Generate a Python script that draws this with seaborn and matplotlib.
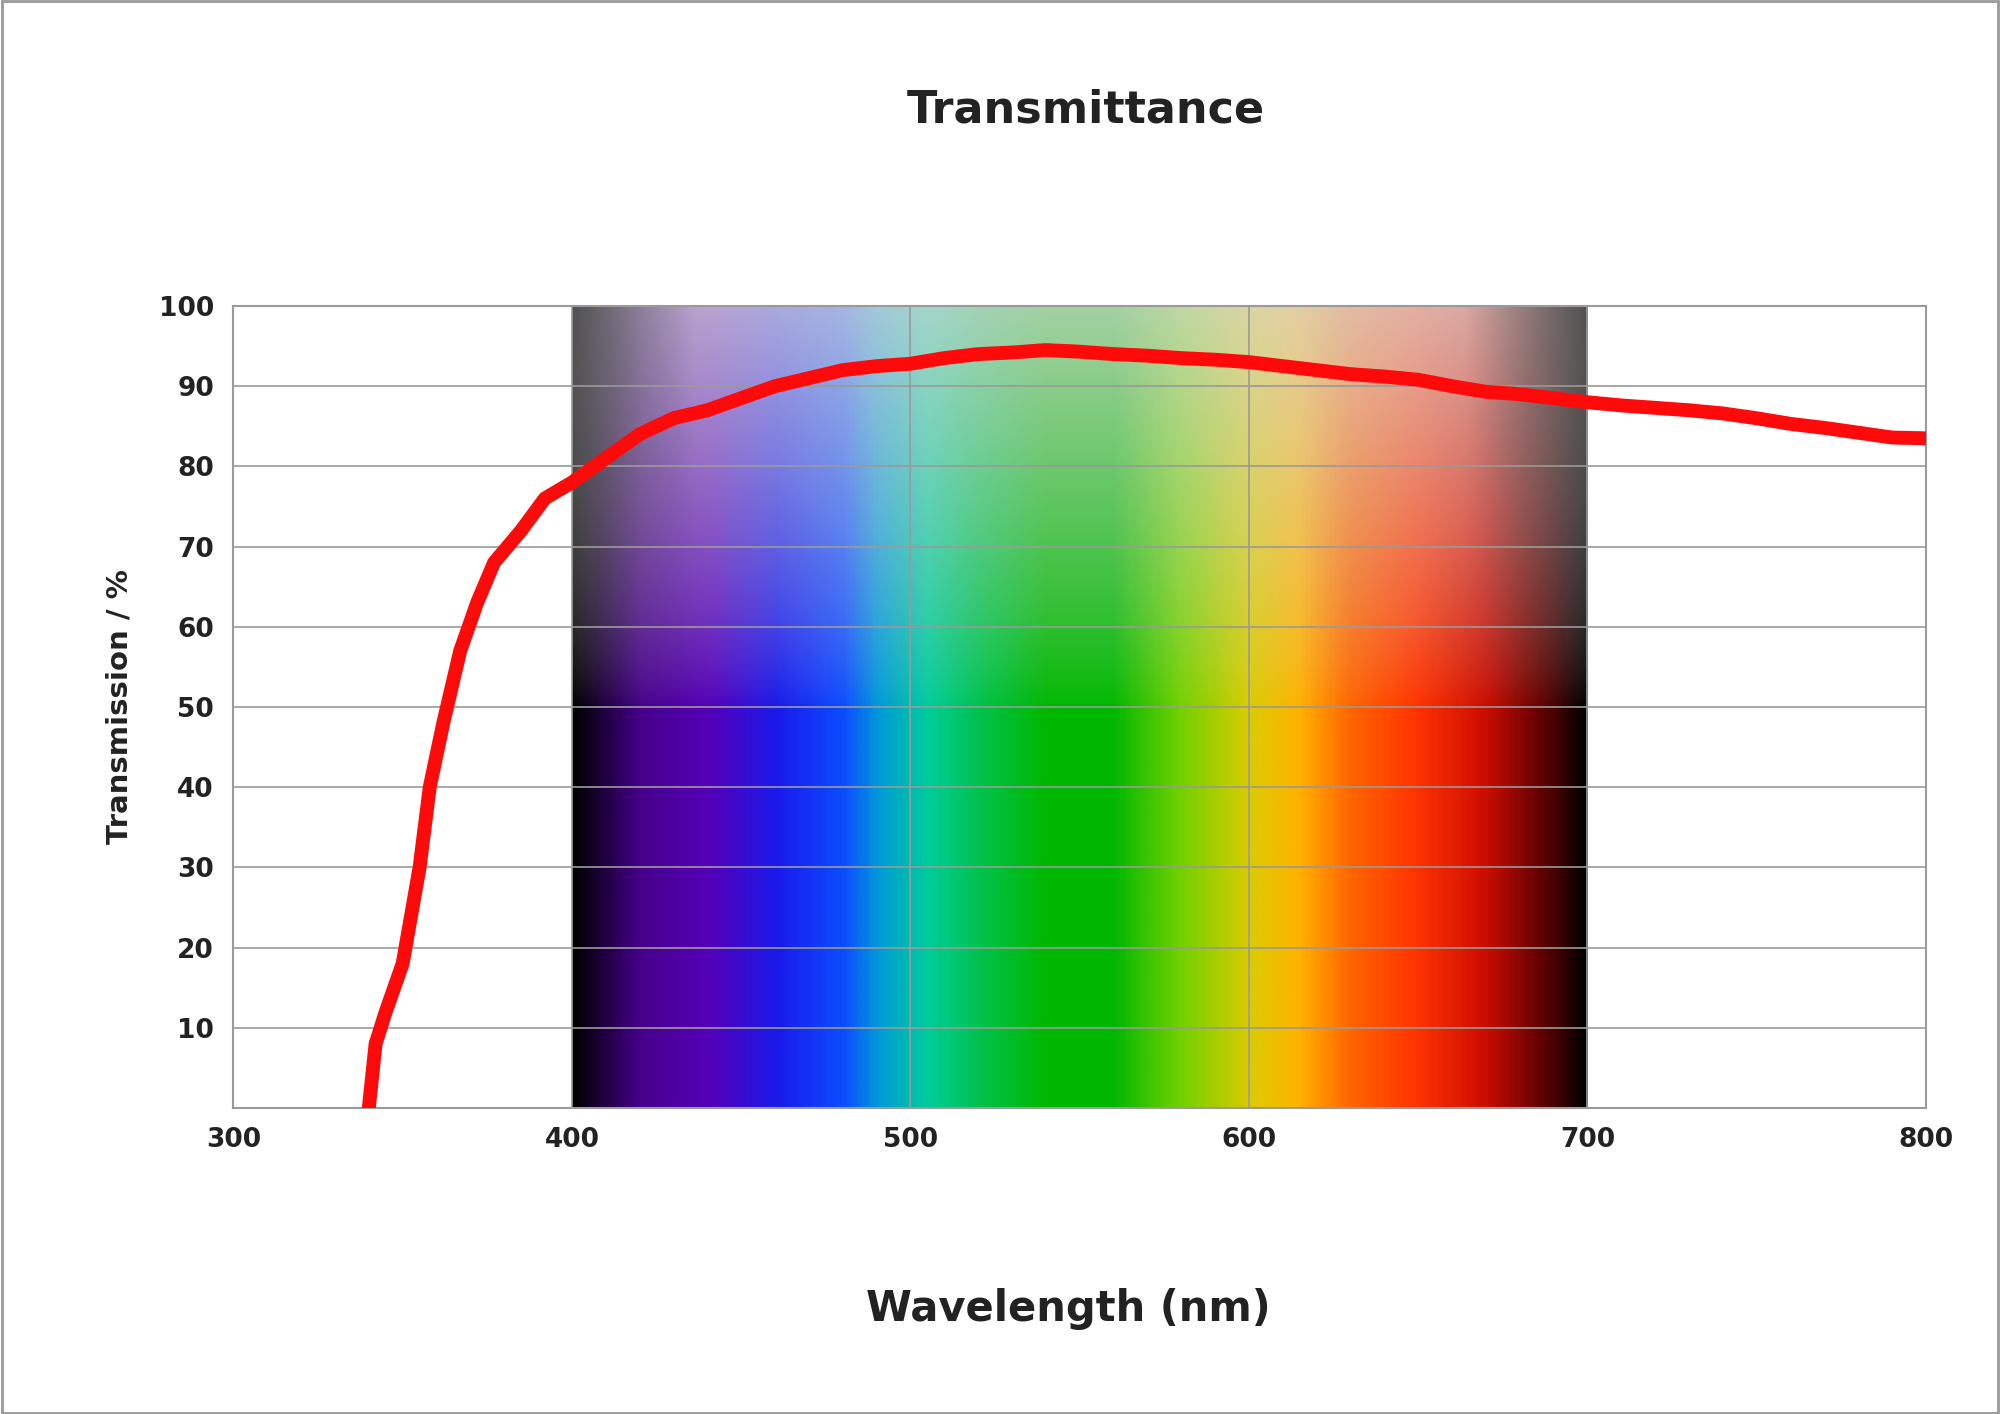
import numpy as np
import pandas as pd
import matplotlib
matplotlib.use("Agg")
import matplotlib.pyplot as plt
import seaborn as sns
from matplotlib.colors import LinearSegmentedColormap

# transmission curve
wavelength = [340, 342, 345, 350, 355, 358, 362, 367, 372, 377, 385, 392, 400, 410, 420, 430, 440,
              450, 460, 470, 480, 490, 500, 510, 520, 530, 540, 550, 560, 570, 580, 590, 600, 610,
              620, 630, 640, 650, 660, 670, 680, 690, 700, 710, 720, 730, 740, 750, 760, 770, 780,
              790, 800]
transmission = [0, 8, 12, 18, 30, 40, 48, 57, 63, 68, 72, 76, 78, 81, 84, 86, 87,
                88.5, 90, 91, 92, 92.5, 92.8, 93.5, 94, 94.2, 94.5, 94.3, 94, 93.8, 93.5, 93.3, 93, 92.5,
                92, 91.5, 91.2, 90.8, 90, 89.3, 89, 88.5, 88, 87.6, 87.3, 87, 86.6, 86, 85.3, 84.8, 84.2,
                83.6, 83.5]

# visible spectrum colour stops
spec_nm = [400, 420, 440, 460, 480, 490, 505, 520, 540, 560, 580, 600, 615, 630, 650, 670, 690, 700]
spec_rgb = [(0, 0, 0), (0.28, 0, 0.55), (0.33, 0, 0.72), (0.1, 0.1, 0.92), (0.05, 0.3, 1.0),
            (0, 0.6, 0.85), (0, 0.8, 0.6), (0, 0.76, 0.3), (0, 0.72, 0), (0, 0.72, 0),
            (0.45, 0.82, 0), (0.85, 0.8, 0), (1, 0.7, 0), (1, 0.4, 0), (1, 0.2, 0),
            (0.8, 0.05, 0), (0.3, 0, 0), (0, 0, 0)]

sns.set_style("white")
plt.rcParams['font.family'] = ['DejaVu Sans']

fig = plt.figure(figsize=(20, 14.14), dpi=100)
ax = fig.add_axes([0.1167, 0.2164, 0.8463, 0.5672])

# spectrum image
pos = [(n - 400) / 300 for n in spec_nm]
cmap = LinearSegmentedColormap.from_list("spec", list(zip(pos, spec_rgb)))
xs = np.linspace(0, 1, 600)
ys = np.linspace(0, 100, 300)
base = cmap(xs)[:, :3]
img = np.zeros((len(ys), len(xs), 3))
for i, yv in enumerate(ys):
    t = np.clip((yv - 50) / 50, 0, 1) ** 0.8
    white = np.clip(t * 0.75, 0, 1)
    row = base * (1 - white) + np.array([0.85, 0.85, 0.85]) * white
    img[i] = row
# darker grey toward edges at the top
edge = np.minimum(xs, 1 - xs)
for i, yv in enumerate(ys):
    t = np.clip((yv - 50) / 50, 0, 1)
    dark = t * np.clip(1 - edge / 0.12, 0, 1) * 0.5
    img[i] = img[i] * (1 - dark[:, None])
ax.imshow(img, extent=[400, 700, 0, 100], origin="lower", aspect="auto", zorder=1)

df = pd.DataFrame({"wavelength": wavelength, "transmission": transmission})
sns.lineplot(data=df, x="wavelength", y="transmission", ax=ax, color="#ff0a0a",
             linewidth=10, zorder=3, solid_capstyle="round")

ax.set_xlim(300, 800)
ax.set_ylim(0, 100)
ax.set_xticks(range(300, 801, 100))
ax.set_yticks(range(10, 101, 10))
ax.grid(True, color="#9a9a9a", linewidth=1.2, zorder=2)
ax.set_axisbelow(False)
for l in ax.get_xgridlines() + ax.get_ygridlines():
    l.set_zorder(2)
for s in ax.spines.values():
    s.set_color("#9a9a9a")
    s.set_linewidth(1.5)
ax.tick_params(axis="both", length=0, labelsize=19, pad=14)
for lab in ax.get_xticklabels() + ax.get_yticklabels():
    lab.set_fontweight("bold")
    lab.set_color("#222222")
ax.set_xlabel("")
ax.set_ylabel("Transmission / %", fontsize=21, fontweight="bold", color="#222222", labelpad=18)

fig.text(0.543, 0.922, "Transmittance", ha="center", va="center", fontsize=32, fontweight="bold",
         color="#222222")
fig.text(0.534, 0.074, "Wavelength (nm)", ha="center", va="center", fontsize=30, fontweight="bold",
         color="#222222")
fig.patches.append(plt.Rectangle((0.001, 0.001), 0.998, 0.998, transform=fig.transFigure,
                                 fill=False, edgecolor="#999999", linewidth=2))

fig.savefig("out.png", dpi=100)
